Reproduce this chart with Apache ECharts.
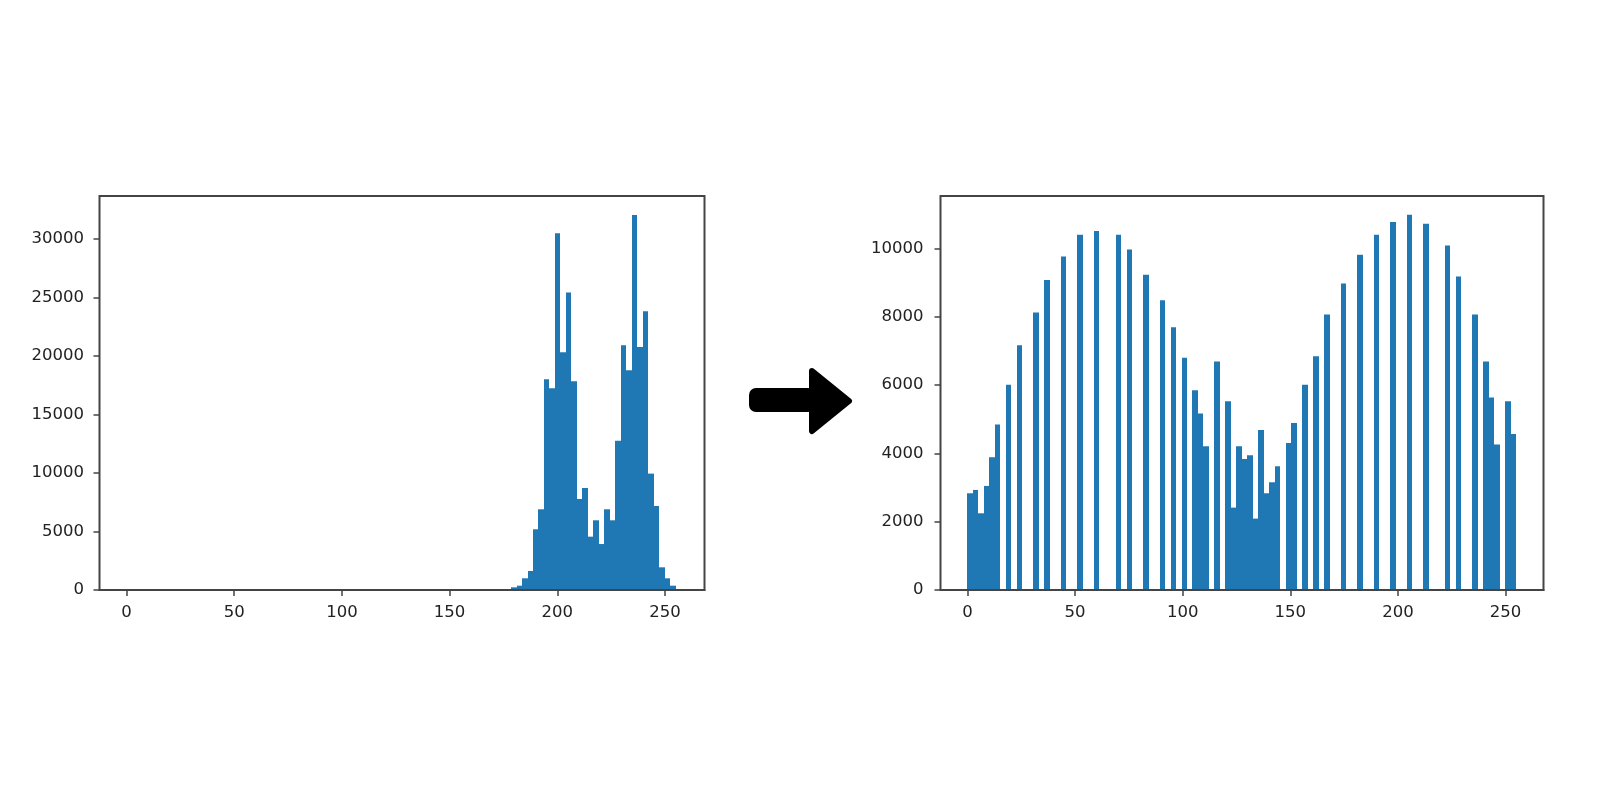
<!DOCTYPE html>
<html>
<head>
<meta charset="utf-8">
<style>html,body{margin:0;padding:0;background:#fff}#c{width:1600px;height:800px;filter:blur(0.5px)}</style>
<script src="https://cdn.jsdelivr.net/npm/echarts@6/dist/echarts.min.js"></script>
</head>
<body>
<div id="c"></div>
<script>
const binWidth = 2.55;
const xTicks = [0, 50, 100, 150, 200, 250];
const leftYTicks = [0, 5000, 10000, 15000, 20000, 25000, 30000];
const rightYTicks = [0, 2000, 4000, 6000, 8000, 10000];
// Histogram counts per bin (100 bins over 0-255)
const beforeCounts = [
  0,0,0,0,0,0,0,0,0,0, 0,0,0,0,0,0,0,0,0,0,
  0,0,0,0,0,0,0,0,0,0, 0,0,0,0,0,0,0,0,0,0,
  0,0,0,0,0,0,0,0,0,0, 0,0,0,0,0,0,0,0,0,0,
  0,0,0,0,0,0,0,0,0,0,
  230,370,1000,1625,5190,6900,18020,17250,30510,20330,
  25430,17850,7780,8720,4560,5960,3930,6900,5960,12770,
  20930,18790,32070,20780,23830,9950,7180,1940,1000,370
];
const afterCounts = [
  2832,2930,2246,3047,3887,4844,0,6006,0,7168,
  0,0,8125,0,9073,0,0,9766,0,0,
  10400,0,0,10508,0,0,0,10400,0,9971,
  0,0,9229,0,0,8487,0,7696,0,6797,
  0,5850,5166,4209,0,6690,0,5528,2412,4209,
  3838,3945,2090,4688,2832,3154,3623,0,4307,4893,
  0,6006,0,6846,0,8067,0,0,8975,0,
  0,9815,0,0,10400,0,0,10772,0,0,
  10987,0,0,10723,0,0,0,10088,0,9180,
  0,0,8067,0,6690,5635,4258,0,5528,4570
];
const barColor = '#1f77b4';
const spine = '#444';
const textColor = '#222';
const font = 'DejaVu Sans';

function rows(counts){
  return counts.map((v,i)=>[i*binWidth,(i+1)*binWidth,v]).filter(r=>r[2]>0);
}
function renderBin(params, api){
  const a = api.coord([api.value(0), api.value(2)]);
  const b = api.coord([api.value(1), 0]);
  const x0 = Math.round(a[0]), x1 = Math.round(b[0]);
  return {type:'rect', shape:{x:x0, y:a[1], width:x1-x0, height:b[1]-a[1]},
          style:{fill:barColor}};
}
function plain(v){ return String(v); }
function xAxis(idx,min,max){
  return {type:'value', gridIndex:idx, min:min, max:max, z:5,
    splitLine:{show:false},
    axisLine:{show:true, onZero:false, lineStyle:{color:spine,width:2}},
    axisTick:{show:true, length:6, customValues:xTicks, lineStyle:{color:spine,width:1.5}},
    axisLabel:{customValues:xTicks, formatter:plain, color:textColor, fontFamily:font, fontSize:16.5, margin:14}};
}
function yAxis(idx,max,ticks,margin){
  return {type:'value', gridIndex:idx, min:0, max:max,
    splitLine:{show:false},
    axisLine:{show:false, onZero:false},
    axisTick:{show:true, length:6, customValues:ticks, lineStyle:{color:spine,width:1.5}},
    axisLabel:{customValues:ticks, formatter:plain, color:textColor, fontFamily:font, fontSize:16.5, margin:margin}};
}
const chart = echarts.init(document.getElementById('c'), null, {renderer:'canvas'});
chart.setOption({
  animation:false,
  backgroundColor:'#fff',
  grid:[
    {show:true,left:99.5,top:196,width:605,height:394,borderColor:spine,borderWidth:2,backgroundColor:'#fff',containLabel:false},
    {show:true,left:940.5,top:196,width:603,height:394,borderColor:spine,borderWidth:2,backgroundColor:'#fff',containLabel:false}
  ],
  xAxis:[xAxis(0,-12.5,268.3),xAxis(1,-12.5,267.6)],
  yAxis:[yAxis(0,33684,leftYTicks,15.5),yAxis(1,11536,rightYTicks,17)],
  series:[
    {type:'custom',xAxisIndex:0,yAxisIndex:0,renderItem:renderBin,encode:{x:[0,1],y:2},data:rows(beforeCounts)},
    {type:'custom',xAxisIndex:1,yAxisIndex:1,renderItem:renderBin,encode:{x:[0,1],y:2},data:rows(afterCounts)}
  ],
  graphic:[
    {type:'rect',shape:{x:749,y:388,width:66,height:24,r:7},style:{fill:'#000'}},
    {type:'polygon',shape:{points:[[812,371],[849,401],[812,431]]},
     style:{fill:'#000',stroke:'#000',lineWidth:6,lineJoin:'round'}}
  ]
});
</script>
</body>
</html>
